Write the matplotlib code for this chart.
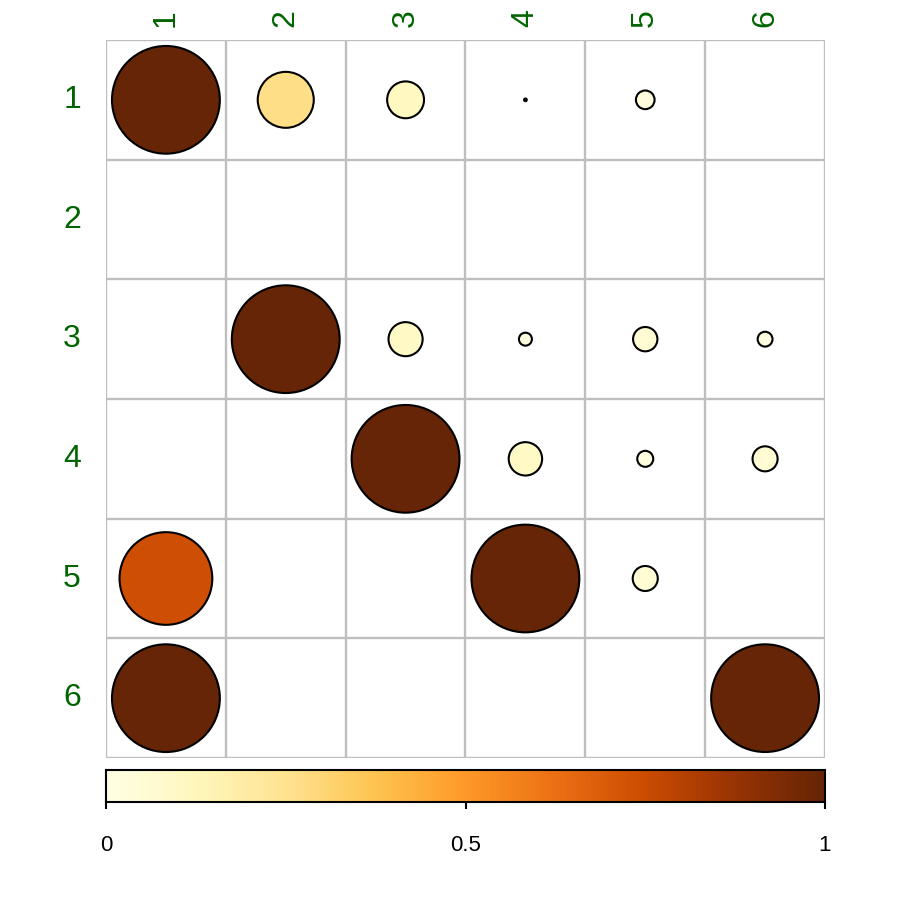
import numpy as np
import matplotlib
matplotlib.use("Agg")
import matplotlib.pyplot as plt
from matplotlib.patches import Circle
from matplotlib.colors import Normalize

row_labels = ["1", "2", "3", "4", "5", "6"]
col_labels = ["1", "2", "3", "4", "5", "6"]
nan = np.nan
row1 = [1.00, 0.27, 0.117, 0.0006, 0.03, nan]
row2 = [nan, nan, nan, nan, nan, nan]
row3 = [nan, 1.00, 0.10, 0.0145, 0.051, 0.019]
row4 = [nan, nan, 1.00, 0.096, 0.022, 0.054]
row5 = [0.74, nan, nan, 1.00, 0.054, nan]
row6 = [1.00, nan, nan, nan, nan, 1.00]
values = np.array([row1, row2, row3, row4, row5, row6])
cbar_ticks = [0, 0.5, 1]
cbar_ticklabels = ["0", "0.5", "1"]

plt.rcParams['font.family'] = ['Liberation Sans', 'DejaVu Sans']
W = H = 900
fig = plt.figure(figsize=(9, 9), dpi=100)
ax = fig.add_axes([106 / W, (H - 758) / H, 719 / W, 718 / H])
cmap = plt.get_cmap("YlOrBr")
norm = Normalize(0, 1)

n = len(row_labels)
ax.set_xlim(0.5, n + 0.5)
ax.set_ylim(n + 0.5, 0.5)
for k in range(n + 1):
    ax.axvline(k + 0.5, color="#BEBEBE", lw=1.7, zorder=1)
    ax.axhline(k + 0.5, color="#BEBEBE", lw=1.7, zorder=1)

for i in range(n):
    for j in range(n):
        v = values[i, j]
        if np.isnan(v):
            continue
        r = 0.45 * np.sqrt(abs(v))
        ax.add_patch(Circle((j + 1, i + 1), r, facecolor=cmap(norm(v)),
                            edgecolor="black", lw=1.5, zorder=3))

ax.set_xticks([])
ax.set_yticks([])
for s in ax.spines.values():
    s.set_visible(False)

green = "#006400"
for j, lab in enumerate(col_labels):
    fig.text((106 + 119.8 * (j + 0.5)) / W, 1 - 18 / H, lab, rotation=90,
             ha="center", va="center", color=green, fontsize=23)
for i, lab in enumerate(row_labels):
    fig.text(72 / W, 1 - (40 + 119.7 * (i + 0.5)) / H, lab,
             ha="center", va="center", color=green, fontsize=23)

# colorbar
cax = fig.add_axes([106 / W, (H - 802) / H, 719 / W, 32 / H])
grad = np.linspace(0, 1, 400).reshape(1, -1)
cax.imshow(grad, aspect="auto", cmap=cmap, norm=norm, extent=[0, 1, 0, 1])
cax.set_xlim(0, 1)
cax.set_ylim(0, 1)
cax.set_yticks([])
cax.set_xticks(cbar_ticks)
cax.set_xticklabels(cbar_ticklabels, fontsize=16)
cax.tick_params(axis="x", length=5, width=1.5, pad=19, direction="out")
for s in cax.spines.values():
    s.set_linewidth(1.5)

fig.savefig("out.png", dpi=100, facecolor="white")
